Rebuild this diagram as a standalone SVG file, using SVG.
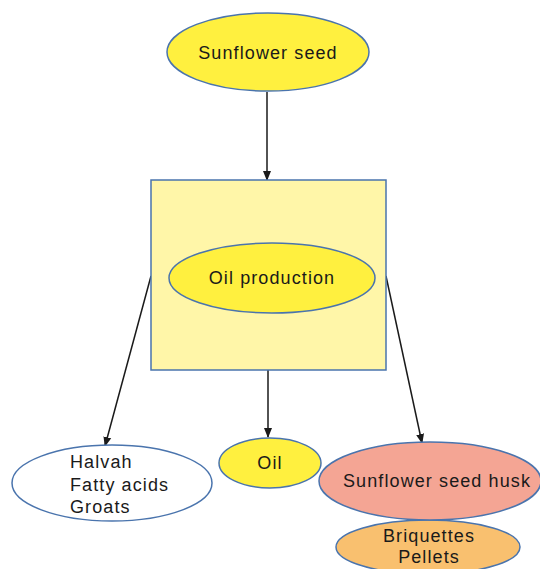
<svg xmlns="http://www.w3.org/2000/svg" width="540" height="569" viewBox="0 0 540 569">
<style>
.s{stroke:#4a74ad;stroke-width:1.5}
.t{font-family:"Liberation Sans",Arial,sans-serif;font-size:18px;letter-spacing:1.1px;fill:#1a1a1a}
.c{stroke:#1a1a1a;stroke-width:1.5;fill:none;marker-end:url(#ah)}
</style>
<defs>
<marker id="ah" markerWidth="10" markerHeight="10" refX="9" refY="5" orient="auto" markerUnits="userSpaceOnUse">
<path d="M0,1 L10,5 L0,9 Z" fill="#1a1a1a"/>
</marker>
</defs>
<rect width="540" height="569" fill="#ffffff"/>
<g id="connectors">
<line class="c" x1="267" y1="92" x2="267" y2="180"/>
<line class="c" x1="151" y1="276" x2="105" y2="446"/>
<line class="c" x1="268" y1="370" x2="268" y2="437"/>
<line class="c" x1="386" y1="276" x2="422" y2="443"/>
</g>
<g id="sunflower-seed">
<ellipse class="s" cx="268" cy="52" rx="101" ry="39" fill="#fff03f"/>
<text class="t" x="268" y="59" text-anchor="middle">Sunflower seed</text>
</g>
<g id="oil-production-box">
<rect class="s" x="151" y="180" width="235" height="190" fill="#fff6a8"/>
</g>
<g id="oil-production">
<ellipse class="s" cx="272" cy="278" rx="103" ry="35" fill="#fff03f"/>
<text class="t" x="272" y="284" text-anchor="middle">Oil production</text>
</g>
<g id="halvah">
<ellipse class="s" cx="112" cy="483" rx="100" ry="38" fill="#ffffff"/>
<text class="t" x="70" y="468">Halvah</text>
<text class="t" x="70" y="491">Fatty acids</text>
<text class="t" x="70" y="513">Groats</text>
</g>
<g id="oil">
<ellipse class="s" cx="270" cy="463" rx="51" ry="25" fill="#fff03f"/>
<text class="t" x="270" y="469" text-anchor="middle">Oil</text>
</g>
<g id="briquettes">
<ellipse class="s" cx="428" cy="547" rx="92" ry="27" fill="#f9c06f"/>
<text class="t" x="429" y="542" text-anchor="middle">Briquettes</text>
<text class="t" x="429" y="563" text-anchor="middle">Pellets</text>
</g>
<g id="husk">
<ellipse class="s" cx="430" cy="481" rx="111" ry="39" fill="#f4a594"/>
<text class="t" x="437" y="487" text-anchor="middle">Sunflower seed husk</text>
</g>
</svg>
